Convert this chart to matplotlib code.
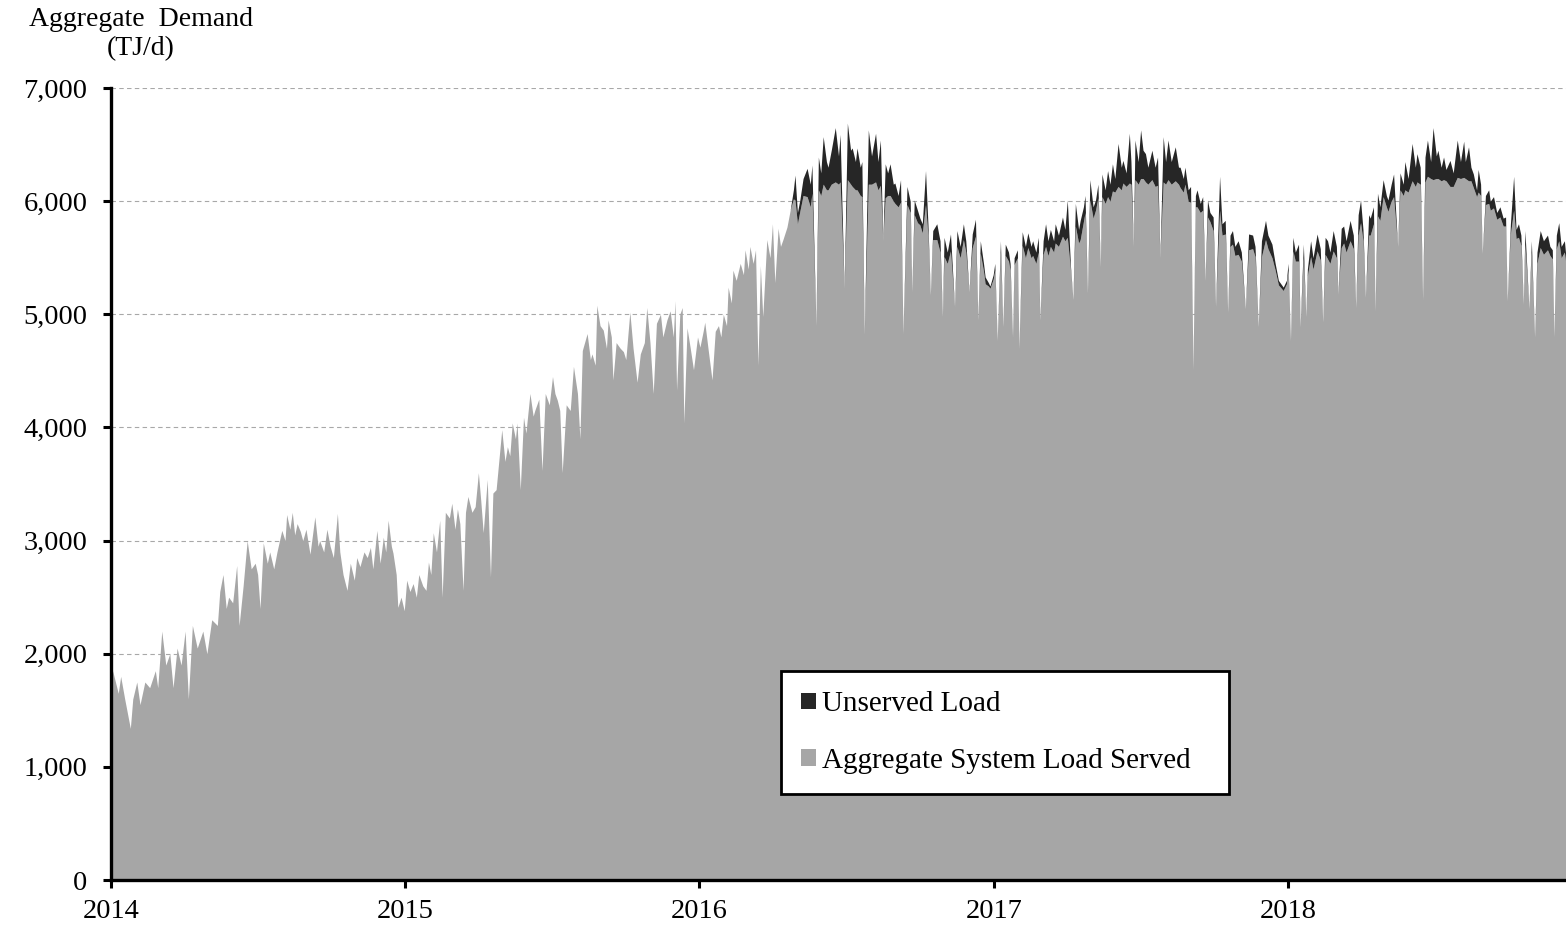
import numpy as np
import matplotlib
matplotlib.use('Agg')
import matplotlib.pyplot as plt
from matplotlib.patches import Patch
from matplotlib.ticker import FuncFormatter

plt.rcParams['font.family'] = ['Liberation Serif', 'DejaVu Serif']

# ---------------- data (day offsets from 2014-01-01, TJ/d) ----------------
start_date = '2014-01-01'

# Jan 2014 - May 2016: no unserved load
days_a = [0, 2, 9, 12, 17, 24, 27, 32, 36, 42, 48, 55, 58, 63, 68, 73, 77, 82, 87, 92,
          96, 101, 107, 114, 119, 125, 132, 135, 139, 143, 146, 151, 156, 159, 164, 169, 174, 179, 182, 185,
          189, 194, 197, 202, 206, 212, 216, 218, 222, 225, 228, 231, 235, 238, 242, 247, 253, 257, 259, 264,
          268, 272, 276, 281, 284, 288, 293, 297, 302, 305, 309, 314, 318, 322, 325, 330, 334, 338, 341, 344,
          348, 350, 354, 356, 360, 364, 367, 371, 375, 379, 382, 387, 391, 394, 397, 400, 404, 408, 411, 415,
          420, 423, 427, 430, 433, 437, 440, 443, 448, 452, 456, 459, 462, 467, 471, 474, 478, 480, 485, 489,
          492, 495, 498, 502, 504, 508, 512, 515, 520, 524, 526, 531, 535, 539, 544, 548, 551, 554, 557, 560,
          565, 570, 574, 579, 582, 585, 591, 595, 597, 601, 603, 607, 611, 615, 617, 621, 623, 627, 632, 636,
          639, 644, 648, 653, 657, 662, 665, 669, 673, 677, 682, 685, 690, 694, 698, 700, 702, 706, 709, 711,
          715, 719, 723, 728, 731, 735, 737, 741, 746, 750, 754, 757, 760, 764, 766, 770, 772, 776, 781, 785,
          787, 791, 793, 797, 800, 803, 806, 809, 814, 818, 821, 824, 828, 831, 834, 839, 843]
demand_a = [1600, 1850, 1650, 1800, 1600, 1340, 1600, 1750, 1550, 1750, 1700, 1850, 1700, 2200, 1900, 2000, 1700, 2050, 1900, 2200,
            1600, 2250, 2050, 2200, 2000, 2300, 2250, 2550, 2700, 2400, 2500, 2450, 2780, 2250, 2600, 3000, 2750, 2800, 2700, 2400,
            2980, 2800, 2900, 2750, 2900, 3090, 3000, 3230, 3100, 3250, 3050, 3150, 3080, 3000, 3100, 2880, 3210, 2950, 3000, 2900,
            3100, 2950, 2850, 3240, 2900, 2700, 2560, 2800, 2650, 2850, 2770, 2900, 2850, 2940, 2750, 3090, 2800, 3030, 2900, 3180,
            2950, 2890, 2700, 2410, 2500, 2380, 2650, 2550, 2620, 2500, 2700, 2600, 2560, 2810, 2700, 3070, 2900, 3180, 2500, 3250,
            3200, 3330, 3100, 3280, 3150, 2560, 3250, 3390, 3250, 3300, 3600, 3350, 3070, 3540, 2680, 3420, 3450, 3600, 3980, 3700,
            3830, 3750, 4040, 3900, 4040, 3450, 4090, 3950, 4300, 4100, 4150, 4250, 3620, 4300, 4200, 4450, 4300, 4240, 4150, 3600,
            4200, 4150, 4540, 4300, 3900, 4680, 4830, 4600, 4650, 4550, 5080, 4900, 4860, 4700, 4950, 4800, 4420, 4750, 4700, 4670,
            4600, 5020, 4700, 4400, 4650, 4750, 5060, 4750, 4300, 4920, 5000, 4800, 4950, 5030, 4800, 5120, 4330, 5000, 5060, 4040,
            4880, 4700, 4510, 4800, 4710, 4850, 4930, 4700, 4420, 4850, 4900, 4800, 5000, 4900, 5240, 5100, 5390, 5300, 5450, 5350,
            5570, 5400, 5600, 5450, 5570, 4550, 5430, 4980, 5660, 5500, 5800, 5280, 5760, 5600, 5660, 5770, 5920]

# Jun 2016 - Dec 2018: aggregate demand and unserved part
days_b = [847, 849, 852, 855, 859, 864, 868, 870, 875, 878, 881, 884, 888, 890, 894, 899, 903, 905, 910, 914,
          918, 920, 924, 926, 930, 932, 935, 940, 944, 949, 952, 955, 958, 961, 964, 967, 971, 973, 977, 980,
          983, 988, 992, 994, 997, 1001, 1004, 1007, 1011, 1014, 1017, 1020, 1025, 1029, 1032, 1034, 1038, 1042, 1047, 1050,
          1054, 1058, 1061, 1065, 1069, 1073, 1076, 1079, 1083, 1085, 1089, 1091, 1095, 1097, 1100, 1104, 1107, 1110, 1114, 1116,
          1119, 1121, 1125, 1127, 1131, 1135, 1138, 1142, 1144, 1148, 1151, 1153, 1157, 1160, 1163, 1166, 1170, 1172, 1176, 1181,
          1184, 1187, 1191, 1194, 1197, 1201, 1203, 1207, 1209, 1212, 1215, 1219, 1222, 1225, 1228, 1230, 1234, 1237, 1240, 1243,
          1246, 1250, 1254, 1256, 1260, 1264, 1266, 1269, 1271, 1275, 1278, 1281, 1284, 1287, 1292, 1296, 1299, 1302, 1306, 1309,
          1312, 1316, 1321, 1325, 1327, 1331, 1333, 1337, 1340, 1343, 1346, 1348, 1352, 1355, 1358, 1361, 1364, 1368, 1371, 1376,
          1379, 1383, 1386, 1389, 1392, 1395, 1399, 1403, 1408, 1412, 1417, 1420, 1424, 1428, 1433, 1436, 1441, 1445, 1449, 1455,
          1459, 1461, 1464, 1467, 1470, 1474, 1476, 1480, 1483, 1485, 1489, 1492, 1497, 1501, 1504, 1507, 1510, 1513, 1517, 1521,
          1523, 1527, 1530, 1533, 1538, 1542, 1545, 1548, 1551, 1554, 1557, 1561, 1563, 1567, 1569, 1572, 1575, 1579, 1583, 1585,
          1589, 1592, 1597, 1600, 1604, 1606, 1610, 1615, 1619, 1621, 1625, 1628, 1631, 1634, 1638, 1641, 1645, 1647, 1651, 1654,
          1657, 1662, 1666, 1671, 1675, 1679, 1681, 1685, 1688, 1691, 1695, 1697, 1700, 1702, 1706, 1710, 1712, 1716, 1720, 1724,
          1728, 1731, 1733, 1737, 1741, 1744, 1747, 1750, 1753, 1755, 1760, 1763, 1767, 1770, 1774, 1778, 1783, 1786, 1789, 1791,
          1794, 1797, 1800, 1804, 1806]
demand_b = [6100, 6230, 5900, 6010, 6200, 6290, 6150, 6320, 4900, 6390, 6250, 6570, 6350, 6300, 6450, 6650, 6400, 6590, 5230, 6690,
            6450, 6470, 6350, 6470, 6300, 6350, 4820, 6630, 6400, 6600, 6350, 6540, 5650, 6330, 6250, 6330, 6150, 6160, 6050, 6190,
            4830, 6130, 6000, 5200, 6010, 5920, 5850, 5800, 6270, 5800, 5170, 5740, 5800, 5650, 4980, 5680, 5550, 5710, 5070, 5740,
            5600, 5800, 5650, 5200, 5710, 5840, 4950, 5650, 5450, 5330, 5280, 5250, 5350, 5450, 4770, 5650, 4890, 5620, 5550, 5450,
            4800, 5500, 5570, 4700, 5730, 5600, 5720, 5600, 5650, 5550, 5680, 4950, 5650, 5800, 5650, 5750, 5650, 5800, 5700, 5860,
            5750, 6010, 5420, 5130, 5980, 5750, 5830, 5950, 6050, 5190, 6190, 5950, 6010, 6150, 5420, 6240, 6100, 6270, 6150, 6330,
            6200, 6510, 6300, 6360, 6250, 6600, 6350, 5600, 6540, 6350, 6630, 6450, 6420, 6300, 6450, 6300, 6390, 5500, 6570, 6350,
            6540, 6350, 6480, 6300, 6300, 6200, 6300, 6100, 6130, 4510, 6050, 6100, 5980, 6040, 5300, 6010, 5900, 5860, 5070, 6220,
            5800, 5830, 5020, 5700, 5740, 5600, 5650, 5550, 5050, 5710, 5700, 5600, 4890, 5650, 5830, 5700, 5620, 5450, 5300, 5240,
            5300, 5450, 4770, 5680, 5550, 5620, 4890, 5620, 4980, 5400, 5650, 5500, 5710, 5580, 4930, 5680, 5650, 5550, 5740, 5600,
            5180, 5760, 5780, 5650, 5830, 5700, 5060, 5880, 6010, 5750, 5150, 5880, 5850, 5950, 5030, 6070, 5950, 6190, 6050, 6010,
            6150, 6240, 5600, 6250, 6150, 6350, 6200, 6510, 6300, 6420, 6300, 5130, 6390, 6540, 6350, 6650, 6400, 6450, 6300, 6390,
            6280, 6360, 6250, 6540, 6350, 6530, 6350, 6480, 6300, 6240, 6100, 6280, 6150, 5540, 6050, 6100, 6000, 6040, 5900, 5950,
            5850, 5860, 5120, 5800, 6220, 5750, 5800, 5700, 5090, 5740, 5050, 5650, 4800, 5550, 5740, 5650, 5700, 5600, 5570, 4800,
            5700, 5810, 5600, 5650, 5500]
unserved_b = [80, 220, 100, 100, 150, 250, 200, 250, 0, 290, 200, 420, 250, 200, 300, 480, 250, 420, 0, 500,
              300, 340, 250, 370, 250, 310, 0, 480, 250, 430, 250, 400, 0, 300, 200, 280, 150, 180, 100, 200,
              0, 160, 100, 0, 130, 110, 60, 80, 300, 100, 0, 80, 140, 100, 0, 170, 100, 150, 0, 140,
              100, 140, 100, 0, 120, 150, 0, 110, 70, 60, 30, 20, 40, 60, 0, 100, 0, 100, 80, 60,
              0, 60, 70, 0, 120, 100, 130, 100, 130, 100, 130, 0, 120, 200, 130, 150, 100, 170, 100, 170,
              100, 330, 30, 0, 200, 120, 170, 130, 150, 0, 180, 100, 90, 120, 0, 200, 120, 230, 150, 240,
              120, 380, 200, 200, 120, 440, 200, 0, 350, 200, 430, 250, 250, 150, 260, 170, 250, 0, 400, 200,
              350, 200, 300, 150, 180, 120, 150, 100, 140, 0, 100, 150, 80, 120, 0, 150, 80, 120, 0, 300,
              100, 120, 0, 100, 120, 80, 120, 80, 0, 140, 120, 90, 0, 140, 170, 120, 120, 60, 40, 30,
              30, 60, 0, 120, 80, 150, 0, 120, 0, 60, 140, 100, 150, 100, 0, 150, 160, 100, 180, 100,
              0, 170, 150, 100, 180, 120, 0, 180, 200, 100, 0, 180, 150, 150, 0, 200, 120, 150, 100, 100,
              150, 200, 0, 150, 100, 250, 120, 330, 170, 250, 150, 0, 220, 320, 150, 460, 200, 250, 120, 200,
              100, 230, 120, 330, 150, 320, 150, 300, 120, 120, 60, 200, 100, 0, 80, 120, 80, 100, 60, 90,
              70, 80, 0, 90, 300, 80, 120, 90, 0, 120, 0, 100, 0, 100, 150, 120, 130, 80, 80, 0,
              120, 160, 100, 100, 60]

year_labels = ['2014', '2015', '2016', '2017', '2018']
y_ticks = [0, 1000, 2000, 3000, 4000, 5000, 6000, 7000]

# ---------------- assemble ----------------
days = np.array(days_a + days_b)
demand = np.array(demand_a + demand_b, dtype=float)
unserved = np.array([0] * len(days_a) + unserved_b, dtype=float)
served = demand - unserved
dates = np.datetime64(start_date) + days.astype('timedelta64[D]')

GRAY = '#a6a6a6'
DARK = '#262626'

W, H = 1566, 927
fig = plt.figure(figsize=(W / 100, H / 100), dpi=100)
ax = fig.add_axes([111 / W, 1 - 880 / H, 1 - 111 / W, (880 - 88) / H])

ax.fill_between(dates, 0, served, color=GRAY, lw=0, zorder=2)
ax.fill_between(dates, served, demand, color=DARK, lw=0, zorder=2)

ax.set_xlim(dates[0], dates[-1])
ax.set_ylim(0, 7000)
ax.set_yticks(y_ticks)
ax.yaxis.set_major_formatter(FuncFormatter(lambda v, p: f'{int(v):,}'))
ax.set_xticks([np.datetime64(f'{y}-01-01') for y in year_labels])
ax.set_xticklabels(year_labels)

ax.set_axisbelow(True)
ax.yaxis.grid(True, linestyle=(0, (4, 3)), color='#a8a8a8', lw=0.8, zorder=0)
ax.xaxis.grid(False)

for s in ['top', 'right']:
    ax.spines[s].set_visible(False)
for s in ['left', 'bottom']:
    ax.spines[s].set_linewidth(2.4)
    ax.spines[s].set_color('black')
    ax.spines[s].set_zorder(3)

ax.tick_params(axis='both', direction='out', length=6, width=2.2, labelsize=20.5, colors='black')
ax.tick_params(axis='y', pad=11)
ax.tick_params(axis='x', pad=8)

fig.text(141 / W, 1 - 19 / H, 'Aggregate  Demand', ha='center', va='center', fontsize=20)
fig.text(141 / W, 1 - 49 / H, '(TJ/d)', ha='center', va='center', fontsize=20)

handles = [Patch(facecolor=DARK, edgecolor='none'), Patch(facecolor=GRAY, edgecolor='none')]
labels = ['Unserved Load', 'Aggregate System Load Served']
leg = ax.legend(handles, labels, loc='upper left', mode='expand',
                bbox_to_anchor=(781 / W, 1 - 789 / H, 448 / W, 118 / H), bbox_transform=fig.transFigure,
                frameon=True, fancybox=False, edgecolor='black', facecolor='white', framealpha=1,
                fontsize=21, handlelength=0.5, handleheight=0.5, handletextpad=0.2,
                labelspacing=1.05, borderpad=0.7, borderaxespad=0)
leg.get_frame().set_linewidth(2)
leg.set_zorder(5)

fig.savefig('out.png', dpi=100)
